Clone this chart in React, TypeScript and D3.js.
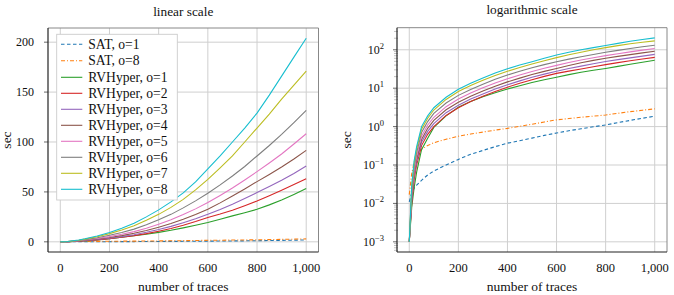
import React from 'react';
import * as d3 from 'd3';

// ---- data ----
const traces = [0, 10, 20, 30, 50, 75, 100, 150, 200, 250, 300, 350, 400, 450, 500, 550, 600, 650, 700, 750, 800, 850, 900, 950, 1000];

const satO1 = [0.011, 0.019, 0.025, 0.03, 0.04, 0.055, 0.07, 0.1, 0.14, 0.19, 0.24, 0.3, 0.37, 0.43, 0.5, 0.59, 0.68, 0.78, 0.88, 0.99, 1.1, 1.27, 1.45, 1.65, 1.87];
const satO8 = [0.017, 0.06, 0.12, 0.18, 0.26, 0.32, 0.38, 0.47, 0.56, 0.64, 0.72, 0.81, 0.9, 1.02, 1.15, 1.32, 1.5, 1.62, 1.75, 1.87, 2.0, 2.22, 2.45, 2.67, 2.9];
const rvO1 = [0.001, 0.008, 0.026, 0.065, 0.25, 0.5, 0.95, 1.9, 3.2, 4.5, 6.0, 7.6, 9.5, 11.6, 14.0, 16.6, 19.3, 22.6, 26.0, 29.2, 32.6, 37.0, 42.0, 47.5, 53.3];
const rvO2 = [0.001, 0.01, 0.042, 0.1, 0.32, 0.63, 1.0, 1.95, 3.1, 4.5, 6.2, 8.2, 10.6, 13.4, 16.6, 20.3, 24.3, 27.8, 31.6, 36.2, 41.0, 46.2, 51.6, 57.3, 63.3];
const rvO3 = [0.001, 0.012, 0.052, 0.12, 0.39, 0.75, 1.2, 2.3, 3.6, 5.2, 7.1, 9.5, 12.3, 15.5, 19.2, 23.2, 27.6, 32.4, 37.6, 43.3, 49.3, 55.3, 61.6, 68.5, 76.0];
const rvO4 = [0.001, 0.014, 0.062, 0.14, 0.46, 0.9, 1.45, 2.75, 4.3, 6.2, 8.5, 11.3, 14.6, 18.3, 22.6, 27.4, 32.6, 39.0, 46.0, 53.0, 60.3, 67.5, 75.0, 83.0, 91.6];
const rvO5 = [0.001, 0.017, 0.075, 0.17, 0.56, 1.1, 1.75, 3.3, 5.2, 7.5, 10.2, 13.6, 17.6, 22.0, 27.3, 33.0, 39.3, 46.5, 54.0, 62.0, 70.3, 79.0, 88.0, 98.0, 108.3];
const rvO6 = [0.001, 0.02, 0.09, 0.21, 0.7, 1.35, 2.2, 4.1, 6.5, 9.3, 12.7, 17.0, 22.0, 27.5, 34.0, 41.0, 48.6, 57.0, 66.0, 75.5, 86.0, 96.5, 107.6, 119.5, 131.6];
const rvO7 = [0.001, 0.025, 0.11, 0.26, 0.85, 1.65, 2.7, 5.1, 8.2, 11.8, 16.0, 21.5, 27.5, 34.5, 42.5, 52.0, 62.5, 74.0, 86.0, 100.0, 114.0, 128.0, 143.0, 157.0, 171.0];
const rvO8 = [0.001, 0.03, 0.13, 0.3, 1.0, 1.9, 3.1, 5.8, 9.4, 13.5, 18.5, 25.0, 32.0, 40.0, 49.0, 60.0, 73.0, 86.0, 100.0, 114.0, 129.0, 147.0, 166.0, 185.0, 204.0];

const seriesNames = ['SAT, o=1', 'SAT, o=8', 'RVHyper, o=1', 'RVHyper, o=2', 'RVHyper, o=3', 'RVHyper, o=4', 'RVHyper, o=5', 'RVHyper, o=6', 'RVHyper, o=7', 'RVHyper, o=8'];
const seriesValues = [satO1, satO8, rvO1, rvO2, rvO3, rvO4, rvO5, rvO6, rvO7, rvO8];

const xTicks = [0, 200, 400, 600, 800, 1000];
const yTicksLinear = [0, 50, 100, 150, 200];
const yTicksLog = [-3, -2, -1, 0, 1, 2];

// ---- styles ----
const colors = ['#1f77b4', '#ff7f0e', '#2ca02c', '#d62728', '#9467bd', '#8c564b', '#e377c2', '#7f7f7f', '#bcbd22', '#17becf'];
const dashes = ['3.5,2.5', '4,2,1,2', null, null, null, null, null, null, null, null];
const FONT = 'Liberation Serif, DejaVu Serif, serif';
const fontStyle = { fontFamily: FONT } as React.CSSProperties;

type PanelProps = { left: number; right: number; top: number; bottom: number; log: boolean; title: string; titleY: number; ylabelX: number };

function Panel({ left, right, top, bottom, log, title, titleY, ylabelX }: PanelProps) {
  const x = d3.scaleLinear().domain([-50, 1050]).range([left, right]);
  const y: any = log
    ? d3.scaleLog().domain([Math.pow(10, -3.265), Math.pow(10, 2.575)]).range([bottom, top])
    : d3.scaleLinear().domain([-10.2, 214.2]).range([bottom, top]);
  const line = d3.line<[number, number]>().x(d => x(d[0])).y(d => y(d[1]));
  const fmt = d3.format(',');
  const cx = (left + right) / 2;
  const clipId = log ? 'clipLog' : 'clipLin';

  const minor: number[] = [];
  if (log) {
    for (let e = -4; e <= 2; e++) {
      for (let m = 2; m <= 9; m++) {
        const v = m * Math.pow(10, e);
        const py = y(v);
        if (py >= top && py <= bottom) minor.push(py);
      }
    }
  }
  const majorYs = log ? yTicksLog.map(e => Math.pow(10, e)) : yTicksLinear;

  return (
    <g style={fontStyle}>
      <defs>
        <clipPath id={clipId}>
          <rect x={left} y={top} width={right - left} height={bottom - top} />
        </clipPath>
      </defs>
      {xTicks.map(t => (
        <line key={'gx' + t} x1={x(t)} x2={x(t)} y1={top} y2={bottom} stroke="#cfcfcf" strokeWidth={1} />
      ))}
      {majorYs.map(t => (
        <line key={'gy' + t} x1={left} x2={right} y1={y(t)} y2={y(t)} stroke="#cfcfcf" strokeWidth={1} />
      ))}
      {minor.map((py, i) => (
        <line key={'mn' + i} x1={left - 3} x2={left + 1} y1={py} y2={py} stroke="#999" strokeWidth={0.6} />
      ))}
      {majorYs.map(t => (
        <line key={'ty' + t} x1={left - 4} x2={left} y1={y(t)} y2={y(t)} stroke="#444" strokeWidth={0.8} />
      ))}
      <g clipPath={`url(#${clipId})`}>
        {seriesValues.map((vals, i) => (
          <path
            key={'s' + i}
            d={line(traces.map((t, j) => [t, vals[j]] as [number, number])) || ''}
            fill="none"
            stroke={colors[i]}
            strokeWidth={1.1}
            strokeDasharray={dashes[i] || undefined}
          />
        ))}
      </g>
      <line x1={left} x2={right} y1={top} y2={top} stroke="#888" strokeWidth={1} />
      <line x1={right} x2={right} y1={top} y2={bottom} stroke="#888" strokeWidth={1} />
      <line x1={left} x2={left} y1={top} y2={bottom} stroke="#222" strokeWidth={1.2} />
      <line x1={left} x2={right} y1={bottom} y2={bottom} stroke="#222" strokeWidth={1.2} />
      {xTicks.map(t => (
        <text key={'lx' + t} x={x(t)} y={bottom + 20} textAnchor="middle" style={fontStyle} fontSize={12.5} fill="#111">
          {fmt(t)}
        </text>
      ))}
      {log
        ? yTicksLog.map(e => (
            <text key={'ly' + e} x={left - 13} y={y(Math.pow(10, e)) + 4} textAnchor="end" style={fontStyle} fontSize={12} fill="#111">
              10
              <tspan dy={-5} fontSize={8.5}>{e < 0 ? '\u2212' + Math.abs(e) : String(e)}</tspan>
            </text>
          ))
        : yTicksLinear.map(t => (
            <text key={'ly' + t} x={left - 14} y={y(t) + 4} textAnchor="end" style={fontStyle} fontSize={12} fill="#111">
              {fmt(t)}
            </text>
          ))}
      <text x={cx} y={titleY} textAnchor="middle" style={fontStyle} fontSize={13.3} fill="#111">{title}</text>
      <text x={cx} y={bottom + 38.5} textAnchor="middle" style={fontStyle} fontSize={13.5} fill="#111">number of traces</text>
      <text transform={`translate(${ylabelX},${(top + bottom) / 2}) rotate(-90)`} textAnchor="middle" style={fontStyle} fontSize={13.5} fill="#111">sec</text>
    </g>
  );
}

function Legend() {
  const lx = 56.7, ly = 34.3, w = 120.6, h = 165.7;
  const rowY = (i: number) => (i === 0 ? 44.3 : i === 1 ? 60.8 : 77.3 + (i - 2) * 16.0);
  return (
    <g style={fontStyle}>
      <rect x={lx} y={ly} width={w} height={h} fill="#fff" stroke="#cccccc" strokeWidth={0.9} />
      {seriesNames.map((n, i) => (
        <g key={'lg' + i}>
          <line x1={61} x2={82.3} y1={rowY(i)} y2={rowY(i)} stroke={colors[i]} strokeWidth={1.1} strokeDasharray={dashes[i] || undefined} />
          <text x={88.3} y={rowY(i) + 4.6} style={fontStyle} fontSize={13.6} fill="#111">{n}</text>
        </g>
      ))}
    </g>
  );
}

export default function App() {
  return (
    <svg width={674} height={295} style={{ position: 'absolute', left: 0, top: 0, background: '#fff', fontFamily: FONT }}>
      <rect x={0} y={0} width={674} height={295} fill="#fff" />
      <Panel left={48} right={318.5} top={28} bottom={252} log={false} title="linear scale" titleY={15.5} ylabelX={10.5} />
      <Legend />
      <Panel left={397} right={667} top={27.7} bottom={252} log={true} title="logarithmic scale" titleY={13.5} ylabelX={350.5} />
    </svg>
  );
}
